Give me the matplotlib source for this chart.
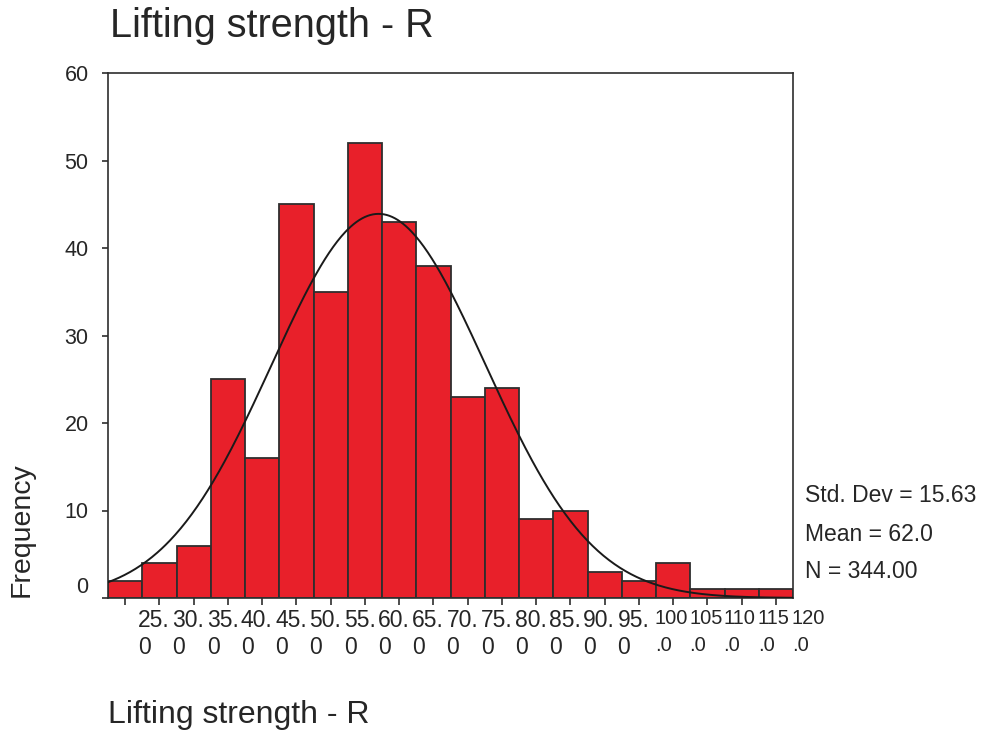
"""SPSS-style histogram of right-hand lifting strength with fitted normal curve."""

import matplotlib

matplotlib.use("Agg")
import matplotlib.pyplot as plt
import matplotlib.transforms as mtransforms
import numpy as np

# Histogram bins (midpoints, width 5) and counts
BIN_MIDS = [25, 30, 35, 40, 45, 50, 55, 60, 65, 70,
            75, 80, 85, 90, 95, 100, 105, 110, 115, 120]
COUNTS = [2, 4, 6, 25, 16, 45, 35, 52, 43, 38,
          23, 24, 9, 10, 3, 2, 4, 1, 1, 1]
TICK_LABELS = ["25.\n0", "30.\n0", "35.\n0", "40.\n0", "45.\n0", "50.\n0",
               "55.\n0", "60.\n0", "65.\n0", "70.\n0", "75.\n0", "80.\n0",
               "85.\n0", "90.\n0", "95.\n0", "100\n.0", "105\n.0", "110\n.0",
               "115\n.0", "120\n.0"]
Y_TICKS = [0, 10, 20, 30, 40, 50, 60]

# summary statistics printed on the chart
STD_DEV = 15.63
MEAN = 62.0
N_CASES = 344
BIN_WIDTH = 5

TEXT_COLOR = "#262626"
BAR_COLOR = "#e8202a"
EDGE_COLOR = "#2e2e2e"

plt.rcParams["font.family"] = ["Liberation Sans", "DejaVu Sans"]

fig = plt.figure(figsize=(9.81, 7.34), dpi=100)
ax = fig.add_axes([108 / 981, 1 - 598 / 734, 685 / 981, 525 / 734])

ax.bar(BIN_MIDS, COUNTS, width=BIN_WIDTH, color=BAR_COLOR,
       edgecolor=EDGE_COLOR, linewidth=1.3, zorder=2)

# normal curve scaled to the histogram (as SPSS draws it)
lo = BIN_MIDS[0] - BIN_WIDTH / 2
hi = BIN_MIDS[-1] + BIN_WIDTH / 2
xs = np.linspace(lo, hi, 500)
ys = N_CASES * BIN_WIDTH / (STD_DEV * np.sqrt(2 * np.pi)) * np.exp(-0.5 * ((xs - MEAN) / STD_DEV) ** 2)
ax.plot(xs, ys, color="#1a1a1a", linewidth=1.4, zorder=3)

ax.set_xlim(lo, hi)
ax.set_ylim(0, 60)

ax.set_xticks(BIN_MIDS)
ax.set_xticklabels(TICK_LABELS, fontsize=16.5, color=TEXT_COLOR, ha="left",
                   multialignment="left", linespacing=1.2)
ax.set_yticks(Y_TICKS)
ax.set_yticklabels([str(v) for v in Y_TICKS], fontsize=15.5, color=TEXT_COLOR)
ax.tick_params(axis="x", direction="out", length=5, width=1.2, pad=3, colors=EDGE_COLOR,
               labelcolor=TEXT_COLOR)
ax.tick_params(axis="y", direction="out", length=4, width=1.2, pad=10, colors=EDGE_COLOR,
               labelcolor=TEXT_COLOR)

# SPSS renders the category labels shifted to the right of their ticks;
# the three-digit ones are squeezed so they just fit one bar width
for lbl in ax.get_xticklabels():
    first = lbl.get_text().split("\n")[0]
    dx = 0.13
    if not first.endswith("."):
        dx = 0.16
        lbl.set_fontsize(14.5)
        lbl.set_linespacing(1.5)
    lbl.set_transform(lbl.get_transform()
                      + mtransforms.ScaledTranslation(dx, 0, fig.dpi_scale_trans))
# ... and the zero label sits a bit above the baseline
zero_lbl = ax.get_yticklabels()[0]
zero_lbl.set_transform(zero_lbl.get_transform()
                       + mtransforms.ScaledTranslation(0, 0.13, fig.dpi_scale_trans))

for side in ("left", "right", "top", "bottom"):
    ax.spines[side].set_color(EDGE_COLOR)
    ax.spines[side].set_linewidth(1.2)

fig.text(110 / 981, 1 - 37 / 734, "Lifting strength - R", fontsize=28.5,
         color=TEXT_COLOR, ha="left", va="baseline")
fig.text(108 / 981, 1 - 723 / 734, "Lifting strength - R", fontsize=23,
         color=TEXT_COLOR, ha="left", va="baseline")
fig.text(22 / 981, 1 - 530 / 734, "Frequency", fontsize=20.5, rotation=90,
         color=TEXT_COLOR, ha="center", va="center")

stats = [f"Std. Dev = {STD_DEV:.2f}", f"Mean = {MEAN:.1f}", f"N = {N_CASES:.2f}"]
for line, base in zip(stats, [502, 541, 578]):
    fig.text(805 / 981, 1 - base / 734, line, fontsize=16.5, color=TEXT_COLOR,
             ha="left", va="baseline")

fig.savefig("out.png", dpi=100)
